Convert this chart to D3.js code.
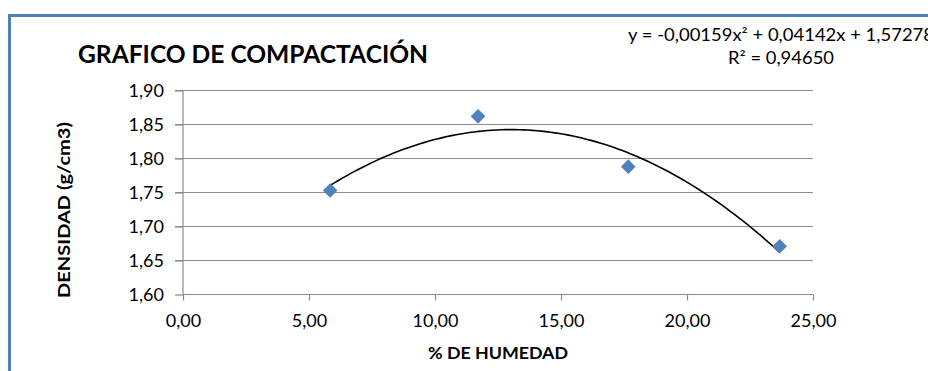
<!DOCTYPE html>
<html>
<head>
<meta charset="utf-8">
<script src="https://cdn.jsdelivr.net/npm/d3@7"></script>
<style>
  html, body { margin: 0; padding: 0; background: #fff; overflow: hidden; }
  svg { display: block; font-family: Lato, "Open Sans", sans-serif; }
</style>
</head>
<body>
<svg id="chart" width="928" height="371"></svg>
<script>
// ---- data ----
const humedad = [5.84, 11.71, 17.67, 23.68];
const densidad = [1.753, 1.862, 1.788, 1.671];
const trendCoef = [-0.00159, 0.04142, 1.57278]; // a, b, c (y = ax^2 + bx + c)
const yTicks = [1.60, 1.65, 1.70, 1.75, 1.80, 1.85, 1.90];
const xTicks = [0, 5, 10, 15, 20, 25];
const titleText = "GRAFICO DE COMPACTACIÓN";
const xTitle = "% DE HUMEDAD";
const yTitle = "DENSIDAD (g/cm3)";
const eqText = "y = -0,00159x² + 0,04142x + 1,57278";
const r2Text = "R² = 0,94650";

const svg = d3.select("#chart");
const fmt = v => d3.format(".2f")(v).replace(".", ",");

// chart frame
svg.append("rect")
  .attr("x", 9.5).attr("y", 15.5).attr("width", 940).attr("height", 380)
  .attr("fill", "#fff").attr("stroke", "#4F81BD").attr("stroke-width", 3);

const x = d3.scaleLinear().domain([0, 25]).range([183, 813]);
const y = d3.scaleLinear().domain([1.60, 1.90]).range([294.5, 90.5]);

const grid = "#8c8c8c";

// gridlines
svg.append("g").selectAll("line").data(yTicks.filter(t => t > 1.6)).join("line")
  .attr("x1", x(0) - 8).attr("x2", x(25))
  .attr("y1", d => y(d)).attr("y2", d => y(d))
  .attr("stroke", grid).attr("stroke-width", 1.2);

// y axis
const yAxis = svg.append("g").attr("transform", `translate(${x(0)},0)`)
  .call(d3.axisLeft(y).tickValues(yTicks).tickFormat(fmt).tickSize(8).tickPadding(11));
yAxis.select(".domain").attr("stroke", grid).attr("stroke-width", 1.2).attr("d", `M0,${y(1.9)}V${y(1.6)}`);
yAxis.selectAll(".tick line").attr("stroke", grid).attr("stroke-width", 1.2);
yAxis.selectAll(".tick text").attr("font-size", 18).attr("fill", "#000").attr("font-family", "Lato");

// x axis
const xAxis = svg.append("g").attr("transform", `translate(0,${y(1.6)})`)
  .call(d3.axisBottom(x).tickValues(xTicks).tickFormat(fmt).tickSize(6).tickPadding(14));
xAxis.select(".domain").attr("stroke", grid).attr("stroke-width", 1.2).attr("d", `M${x(0)},0H${x(25)}`);
xAxis.selectAll(".tick line").attr("stroke", grid).attr("stroke-width", 1.2);
xAxis.selectAll(".tick text").attr("font-size", 18).attr("fill", "#000").attr("font-family", "Lato");

// trendline
const poly = v => trendCoef[0] * v * v + trendCoef[1] * v + trendCoef[2];
const xs = d3.range(0, 101).map(i => humedad[0] + (humedad[humedad.length - 1] - humedad[0]) * i / 100);
svg.append("path")
  .attr("d", d3.line().x(d => x(d)).y(d => y(poly(d)))(xs))
  .attr("fill", "none").attr("stroke", "#000").attr("stroke-width", 1.6);

// markers (diamonds)
const h = 7.3;
svg.append("g").selectAll("path").data(humedad.map((v, i) => [v, densidad[i]])).join("path")
  .attr("d", d => {
    const cx = x(d[0]), cy = y(d[1]);
    return `M${cx},${cy - h}L${cx + h},${cy}L${cx},${cy + h}L${cx - h},${cy}Z`;
  })
  .attr("fill", "#4F81BD");

// title
svg.append("text").attr("x", 78).attr("y", 62.5)
  .attr("font-size", 25).attr("font-weight", "bold").attr("fill", "#000")
  .attr("textLength", 350).attr("lengthAdjust", "spacingAndGlyphs")
  .text(titleText);

// equation
svg.append("text").attr("x", 781).attr("y", 41).attr("text-anchor", "middle")
  .attr("font-size", 17).attr("fill", "#000")
  .attr("textLength", 306).attr("lengthAdjust", "spacingAndGlyphs").text(eqText);
svg.append("text").attr("x", 781).attr("y", 63.5).attr("text-anchor", "middle")
  .attr("font-size", 17).attr("fill", "#000")
  .attr("textLength", 106).attr("lengthAdjust", "spacingAndGlyphs").text(r2Text);

// axis titles
svg.append("text").attr("x", 498).attr("y", 359).attr("text-anchor", "middle")
  .attr("font-size", 17).attr("font-weight", "bold").attr("fill", "#000")
  .attr("textLength", 140).attr("lengthAdjust", "spacingAndGlyphs").text(xTitle);
svg.append("text").attr("transform", "translate(70,210) rotate(-90)").attr("text-anchor", "middle")
  .attr("font-size", 17).attr("font-weight", "bold").attr("fill", "#000")
  .attr("textLength", 176).attr("lengthAdjust", "spacingAndGlyphs").text(yTitle);
</script>
</body>
</html>
